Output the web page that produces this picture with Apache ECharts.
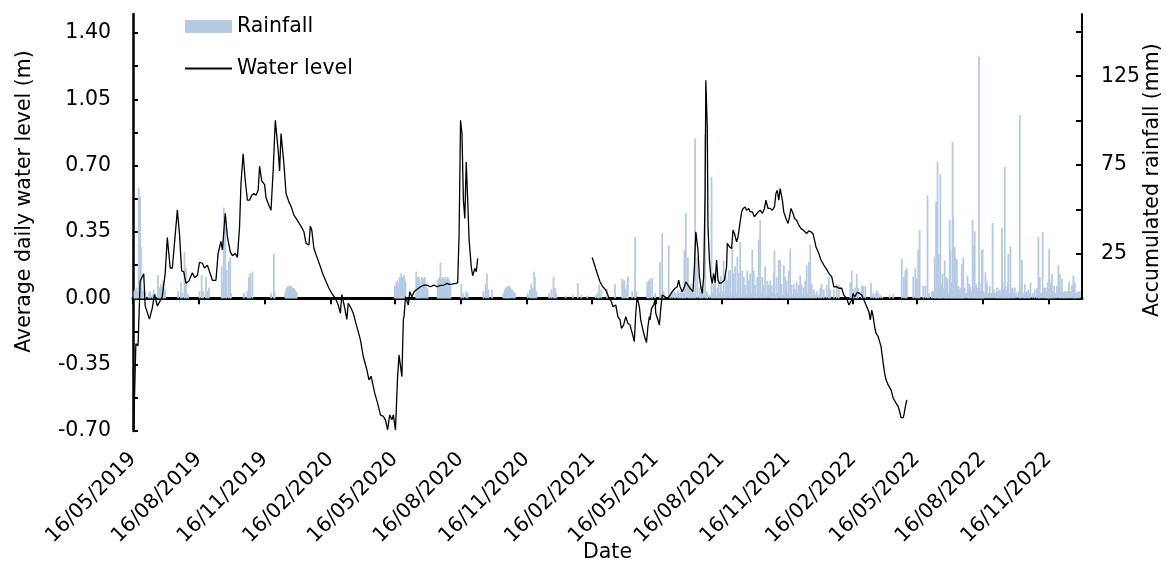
<!DOCTYPE html>
<html><head><meta charset="utf-8">
<script src="https://cdn.jsdelivr.net/npm/echarts@6/dist/echarts.min.js"></script>
<style>html,body{margin:0;padding:0;background:#fff}#c{width:1166px;height:562px}</style>
</head><body><div id="c"></div>
<script>
// ---------- DATA ----------
const tickDates = ['2019-05-16','2019-08-16','2019-11-16','2020-02-16','2020-05-16','2020-08-16','2020-11-16',
  '2021-02-16','2021-05-16','2021-08-16','2021-11-16','2022-02-16','2022-05-16','2022-08-16','2022-11-16'];
const levelLabels = [-0.70,-0.35,0.00,0.35,0.70,1.05,1.40];
const levelTicks = [-0.70,-0.525,-0.35,-0.175,0,0.175,0.35,0.525,0.70,0.875,1.05,1.225,1.40];
const rainTicks = [0,25,50,75,100,125,150];
const rainLabels = [25,75,125];

const waterLevel = [
['2019-05-17',-0.69],['2019-05-20',-0.24],['2019-05-23',-0.25],['2019-05-26',0.09],['2019-05-31',0.13],['2019-06-02',-0.04],['2019-06-08',-0.11],['2019-06-12',-0.05],['2019-06-15',0.02],['2019-06-19',-0.04],['2019-06-22',-0.02],['2019-06-26',0.01],['2019-06-28',0.02],['2019-06-30',0.13],['2019-07-03',0.32],['2019-07-07',0.16],['2019-07-10',0.16],['2019-07-13',0.29],['2019-07-17',0.465],['2019-07-20',0.34],['2019-07-23',0.145],['2019-07-26',0.14],['2019-07-29',0.08],['2019-08-02',0.09],['2019-08-07',0.135],['2019-08-10',0.11],['2019-08-14',0.12],['2019-08-17',0.19],['2019-08-21',0.185],['2019-08-24',0.16],['2019-08-28',0.175],['2019-09-01',0.13],['2019-09-04',0.095],['2019-09-09',0.095],['2019-09-12',0.237],['2019-09-16',0.30],['2019-09-18',0.255],['2019-09-22',0.448],['2019-09-25',0.325],['2019-09-29',0.245],['2019-10-02',0.225],['2019-10-06',0.237],['2019-10-09',0.216],['2019-10-12',0.377],['2019-10-14',0.606],['2019-10-17',0.763],['2019-10-20',0.62],['2019-10-23',0.518],['2019-10-26',0.518],['2019-10-29',0.544],['2019-11-01',0.553],['2019-11-04',0.544],['2019-11-07',0.57],['2019-11-09',0.697],['2019-11-12',0.62],['2019-11-16',0.60],['2019-11-18',0.53],['2019-11-22',0.491],['2019-11-25',0.465],['2019-11-28',0.676],['2019-12-01',0.939],['2019-12-05',0.781],['2019-12-07',0.672],['2019-12-09',0.869],['2019-12-13',0.711],['2019-12-16',0.553],['2019-12-20',0.509],['2019-12-23',0.486],['2019-12-27',0.439],['2019-12-31',0.416],
['2020-01-05',0.386],['2020-01-10',0.351],['2020-01-13',0.29],['2020-01-17',0.281],['2020-01-19',0.381],['2020-01-21',0.36],['2020-01-24',0.263],['2020-01-28',0.22],['2020-02-02',0.167],['2020-02-05',0.132],['2020-02-10',0.088],['2020-02-14',0.053],['2020-02-18',0.026],['2020-02-23',0.0],['2020-02-27',-0.035],['2020-03-01',-0.079],['2020-03-03',0.02],['2020-03-07',-0.05],['2020-03-10',-0.111],['2020-03-12',-0.026],['2020-03-16',-0.053],['2020-03-19',-0.079],['2020-03-24',-0.149],['2020-03-29',-0.219],['2020-04-02',-0.307],['2020-04-07',-0.377],['2020-04-10',-0.43],['2020-04-13',-0.412],['2020-04-16',-0.465],['2020-04-18',-0.50],['2020-04-22',-0.553],['2020-04-26',-0.615],['2020-04-30',-0.623],['2020-05-03',-0.641],['2020-05-06',-0.694],['2020-05-09',-0.615],['2020-05-12',-0.641],['2020-05-14',-0.615],['2020-05-17',-0.694],['2020-05-20',-0.413],['2020-05-22',-0.299],['2020-05-26',-0.413],['2020-05-28',-0.114],['2020-05-29',-0.097],['2020-05-31',0.008],['2020-06-02',0.0],['2020-06-04',-0.035],['2020-06-06',0.035],['2020-06-09',0.008],['2020-06-12',0.035],['2020-06-15',0.044],['2020-06-17',0.053],['2020-06-21',0.061],['2020-06-26',0.07],['2020-06-30',0.07],['2020-07-05',0.061],['2020-07-10',0.07],['2020-07-14',0.061],['2020-07-19',0.068],['2020-07-24',0.07],['2020-07-28',0.079],['2020-07-31',0.074],['2020-08-04',0.075],['2020-08-09',0.079],['2020-08-12',0.082],['2020-08-14',0.342],['2020-08-16',0.939],['2020-08-18',0.869],['2020-08-20',0.518],['2020-08-22',0.421],['2020-08-24',0.719],['2020-08-26',0.518],['2020-08-28',0.307],['2020-08-31',0.166],['2020-09-02',0.119],['2020-09-05',0.158],['2020-09-07',0.14],['2020-09-09',0.21],['2020-09-10',null],
['2021-02-16',0.216],['2021-02-19',0.181],['2021-02-23',0.132],['2021-02-27',0.087],['2021-03-03',0.061],['2021-03-07',0.044],['2021-03-11',0.008],['2021-03-15',-0.018],['2021-03-17',-0.044],['2021-03-21',-0.035],['2021-03-24',-0.097],['2021-03-27',-0.114],['2021-03-29',-0.158],['2021-04-01',-0.141],['2021-04-04',-0.097],['2021-04-07',-0.132],['2021-04-10',-0.141],['2021-04-13',-0.184],['2021-04-16',-0.228],['2021-04-18',-0.079],['2021-04-20',0.008],['2021-04-23',-0.044],['2021-04-25',-0.114],['2021-04-28',-0.167],['2021-05-01',-0.211],['2021-05-03',-0.234],['2021-05-05',-0.15],['2021-05-07',-0.097],['2021-05-08',-0.114],['2021-05-10',-0.053],['2021-05-13',-0.035],['2021-05-15',-0.009],['2021-05-16',-0.079],['2021-05-19',-0.114],['2021-05-21',-0.141],['2021-05-23',-0.053],['2021-05-25',0.017],['2021-05-27',0.026],['2021-05-29',0.008],['2021-06-01',-0.005],['2021-06-03',-0.009],['2021-06-05',0.017],['2021-06-08',0.035],['2021-06-10',0.026],['2021-06-12',0.053],['2021-06-15',0.061],['2021-06-17',0.096],['2021-06-19',0.061],['2021-06-22',0.035],['2021-06-25',0.061],['2021-06-27',0.087],['2021-06-30',0.07],['2021-07-03',0.053],['2021-07-07',0.035],['2021-07-09',0.166],['2021-07-11',0.351],['2021-07-14',0.254],['2021-07-16',0.114],['2021-07-18',0.061],['2021-07-20',0.026],['2021-07-22',0.114],['2021-07-24',0.553],['2021-07-25',1.15],['2021-07-27',0.904],['2021-07-28',0.377],['2021-07-30',0.202],['2021-08-01',0.114],['2021-08-03',0.079],['2021-08-05',0.132],['2021-08-07',0.082],['2021-08-09',0.202],['2021-08-11',0.096],['2021-08-13',0.079],['2021-08-16',0.082],['2021-08-18',0.087],['2021-08-20',0.096],['2021-08-23',0.166],['2021-08-24',0.29],['2021-08-27',0.272],['2021-08-30',0.263],['2021-09-01',0.36],['2021-09-03',0.342],['2021-09-06',0.298],['2021-09-08',0.324],['2021-09-10',0.377],['2021-09-13',0.456],['2021-09-15',0.474],['2021-09-18',0.482],['2021-09-20',0.465],['2021-09-23',0.474],['2021-09-25',0.456],['2021-09-28',0.456],['2021-10-01',0.43],['2021-10-03',0.439],['2021-10-06',0.456],['2021-10-09',0.465],['2021-10-12',0.448],['2021-10-15',0.474],['2021-10-17',0.518],['2021-10-20',0.474],['2021-10-23',0.474],['2021-10-26',0.465],['2021-10-29',0.482],['2021-10-31',0.553],['2021-11-02',0.57],['2021-11-04',0.518],['2021-11-06',0.579],['2021-11-09',0.518],['2021-11-11',0.456],['2021-11-14',0.421],['2021-11-17',0.395],['2021-11-19',0.43],['2021-11-21',0.474],['2021-11-24',0.448],['2021-11-26',0.421],['2021-11-29',0.412],['2021-12-02',0.386],['2021-12-05',0.369],['2021-12-08',0.36],['2021-12-10',0.351],['2021-12-13',0.342],['2021-12-16',0.356],['2021-12-19',0.351],['2021-12-22',0.339],['2021-12-24',0.307],['2021-12-26',0.272],['2021-12-30',0.237],
['2022-01-02',0.202],['2022-01-06',0.175],['2022-01-09',0.158],['2022-01-13',0.132],['2022-01-17',0.114],['2022-01-20',0.061],['2022-01-22',0.053],['2022-01-24',0.061],['2022-01-27',0.053],['2022-01-29',0.061],['2022-01-31',0.053],['2022-02-03',0.017],['2022-02-05',0.008],['2022-02-07',0.0],['2022-02-10',-0.035],['2022-02-12',-0.039],['2022-02-14',-0.009],['2022-02-16',0.026],['2022-02-18',0.008],['2022-02-19',0.017],['2022-02-22',0.032],['2022-02-25',0.026],['2022-02-28',0.017],['2022-03-02',0.0],['2022-03-04',-0.009],['2022-03-07',-0.044],['2022-03-10',-0.071],['2022-03-12',-0.114],['2022-03-14',-0.062],['2022-03-16',-0.097],['2022-03-18',-0.15],['2022-03-20',-0.184],['2022-03-23',-0.202],['2022-03-25',-0.202],['2022-03-27',-0.255],['2022-03-30',-0.342],['2022-04-01',-0.395],['2022-04-03',-0.43],['2022-04-06',-0.457],['2022-04-08',-0.465],['2022-04-10',-0.483],['2022-04-13',-0.527],['2022-04-15',-0.518],['2022-04-17',-0.553],['2022-04-20',-0.571],['2022-04-22',-0.597],['2022-04-24',-0.629],['2022-04-27',-0.629],['2022-04-28',-0.615],['2022-04-30',-0.571],['2022-05-02',-0.536]
];

const rain2019 = [
['2019-05-18',4],['2019-05-19',5],['2019-05-20',3],['2019-05-21',6],['2019-05-22',4],['2019-05-24',62],['2019-05-26',57],['2019-05-27',29],['2019-05-28',6],['2019-05-29',3],['2019-05-30',4],['2019-05-31',2],['2019-06-01',5],['2019-06-02',3],['2019-06-07',3],['2019-06-09',4],['2019-06-12',2],['2019-06-14',5],['2019-06-16',3],['2019-06-20',13],['2019-06-22',6],['2019-06-23',6],['2019-06-24',8],['2019-06-25',7],['2019-06-27',10],['2019-06-28',6],['2019-06-30',5],
['2019-07-18',4],['2019-07-22',9],['2019-07-24',3],['2019-07-27',26],['2019-07-29',17],['2019-07-30',3],['2019-08-01',2],['2019-08-17',4],['2019-08-20',13],['2019-08-22',4],['2019-08-26',12],['2019-08-28',4],['2019-08-30',6],
['2019-09-17',18],['2019-09-18',9],['2019-09-20',51],['2019-09-22',40],['2019-09-24',16],['2019-09-27',21],['2019-09-29',23],['2019-09-30',3],['2019-10-18',3],['2019-10-23',4],['2019-10-25',12],['2019-10-27',14],['2019-10-30',15],['2019-11-25',3],['2019-11-29',25],['2019-11-30',4],
['2019-12-15',3],['2019-12-16',5],['2019-12-17',6],['2019-12-18',6],['2019-12-19',7],['2019-12-20',7],['2019-12-21',6],['2019-12-22',7],['2019-12-23',7],['2019-12-24',6],['2019-12-25',6],['2019-12-26',5],['2019-12-27',6],['2019-12-28',5],['2019-12-29',4],['2019-12-30',4],['2019-12-31',3]
];

const rain2020 = [
['2020-05-16',7],['2020-05-17',5],['2020-05-18',9],['2020-05-19',8],['2020-05-20',10],['2020-05-21',6],['2020-05-22',8],['2020-05-23',12],['2020-05-24',9],['2020-05-25',14],['2020-05-26',11],['2020-05-27',12],['2020-05-28',10],['2020-05-29',13],['2020-05-30',11],['2020-05-31',9],
['2020-06-15',15],['2020-06-16',8],['2020-06-17',12],['2020-06-18',10],['2020-06-19',12],['2020-06-20',7],['2020-06-22',10],['2020-06-23',12],['2020-06-25',11],['2020-06-26',9],['2020-06-27',12],['2020-06-29',8],['2020-06-30',6],['2020-07-01',5],
['2020-07-15',10],['2020-07-16',11],['2020-07-17',9],['2020-07-18',12],['2020-07-19',20],['2020-07-20',11],['2020-07-21',10],['2020-07-22',12],['2020-07-23',11],['2020-07-24',10],['2020-07-25',11],['2020-07-26',12],['2020-07-27',11],['2020-07-28',10],['2020-07-29',12],['2020-07-30',11],['2020-07-31',10],['2020-08-01',9],['2020-08-02',8],
['2020-08-17',8],['2020-08-20',3],['2020-08-24',4],['2020-08-26',3],['2020-09-17',4],['2020-09-20',8],['2020-09-22',14],['2020-09-24',5],['2020-09-29',5],
['2020-10-15',3],['2020-10-17',5],['2020-10-18',6],['2020-10-19',6],['2020-10-21',7],['2020-10-22',6],['2020-10-23',7],['2020-10-25',6],['2020-10-27',5],['2020-10-29',4],['2020-10-31',3],
['2020-11-18',3],['2020-11-21',5],['2020-11-23',8],['2020-11-25',6],['2020-11-27',15],['2020-11-28',12],['2020-11-30',4],['2020-12-18',3],['2020-12-21',5],['2020-12-24',12],['2020-12-26',6],['2020-12-28',3]
];

const rain2021 = [
['2021-01-10',1.5],['2021-01-20',2],['2021-01-27',8.6],['2021-02-01',2],['2021-02-09',1.5],['2021-02-21',2],['2021-02-24',3],['2021-02-26',7.7],['2021-03-01',5],['2021-03-09',5.3],['2021-03-20',8.1],['2021-03-30',11],['2021-03-31',10],['2021-04-02',10],['2021-04-04',5],['2021-04-06',8],['2021-04-07',12.3],['2021-04-13',4],['2021-04-17',34.5],['2021-04-19',4],
['2021-05-04',9],['2021-05-06',10],['2021-05-08',11],['2021-05-11',11.5],['2021-05-15',3],['2021-05-22',20.4],['2021-05-25',36.8],['2021-05-27',4],['2021-06-03',29.8],['2021-06-05',3],['2021-06-08',4],['2021-06-11',4],['2021-06-13',3],['2021-06-16',5],['2021-06-18',3],['2021-06-20',4],['2021-06-22',5],['2021-06-23',3],['2021-06-25',27],['2021-06-27',48],['2021-06-30',22.9],
['2021-07-02',6],['2021-07-04',8],['2021-07-06',4],['2021-07-08',3],['2021-07-10',90],['2021-07-13',23],['2021-07-16',6],['2021-07-18',4],['2021-07-19',3],['2021-07-21',5],['2021-07-24',92],['2021-07-26',4],['2021-07-27',3],['2021-07-30',2],
['2021-08-02',68.4],['2021-08-03',3],['2021-08-05',8],['2021-08-07',10],['2021-08-08',2],['2021-08-10',6],['2021-08-12',10],['2021-08-13',3],['2021-08-15',12.5],['2021-08-17',4],['2021-08-19',21.3],['2021-08-20',2],['2021-08-22',12.5],['2021-08-24',10],['2021-08-26',15.6],['2021-08-28',16],['2021-08-29',3],['2021-08-31',28.8],
['2021-09-02',14],['2021-09-04',18.1],['2021-09-05',3],['2021-09-07',23.2],['2021-09-09',14],['2021-09-11',31.7],['2021-09-12',2],['2021-09-14',15.6],['2021-09-16',12],['2021-09-18',7.5],['2021-09-19',3],['2021-09-21',15.6],['2021-09-23',10],['2021-09-25',14],['2021-09-26',3],['2021-09-28',27.4],['2021-09-30',15.6],
['2021-10-02',7.5],['2021-10-03',2],['2021-10-05',12],['2021-10-07',33],['2021-10-09',43.9],['2021-10-10',3],['2021-10-12',12],['2021-10-14',7.5],['2021-10-16',17.8],['2021-10-17',2],['2021-10-19',10],['2021-10-21',7.5],['2021-10-23',10],['2021-10-25',7.5],['2021-10-26',3],['2021-10-28',14.5],['2021-10-29',27],['2021-10-31',2],
['2021-11-01',12],['2021-11-02',3],['2021-11-04',21.7],['2021-11-06',21.3],['2021-11-08',8],['2021-11-09',2],['2021-11-11',18.7],['2021-11-13',12],['2021-11-15',10],['2021-11-16',3],['2021-11-18',15.6],['2021-11-20',28],['2021-11-22',7.5],['2021-11-23',2],['2021-11-25',8],['2021-11-27',5],['2021-11-29',9],['2021-11-30',3],
['2021-12-02',7.5],['2021-12-04',12.8],['2021-12-06',7.5],['2021-12-07',2],['2021-12-09',6],['2021-12-11',10],['2021-12-13',18.7],['2021-12-14',3],['2021-12-16',20.5],['2021-12-18',30.3],['2021-12-20',8],['2021-12-21',2],['2021-12-23',5],['2021-12-25',2],['2021-12-27',4],['2021-12-30',2]
];

const rain2022 = [
['2022-01-01',6],['2022-01-03',8],['2022-01-06',5],['2022-01-10',7.5],['2022-01-13',12],['2022-01-15',5],['2022-01-20',5],['2022-01-24',8],['2022-01-27',7.5],
['2022-02-12',9],['2022-02-14',15.6],['2022-02-16',5],['2022-02-19',6],['2022-02-21',13.8],['2022-02-23',6],['2022-02-28',7],['2022-03-02',7],['2022-03-05',7],['2022-03-13',8.7],['2022-03-16',3],['2022-03-19',2.5],['2022-03-21',4.5],['2022-03-23',3],['2022-03-26',2],['2022-03-29',1],
['2022-04-08',2],['2022-04-13',2.5],['2022-04-25',22.3],['2022-04-28',12],['2022-04-30',15.6],['2022-05-02',17],['2022-05-11',12],['2022-05-14',17],['2022-05-16',11],['2022-05-18',27.4],['2022-05-20',38.3],['2022-05-25',7],['2022-05-28',7],['2022-05-31',58],
['2022-06-02',3],['2022-06-06',4],['2022-06-08',4],['2022-06-10',23.2],['2022-06-11',5],['2022-06-12',54.3],['2022-06-14',77],['2022-06-15',6],['2022-06-16',25],['2022-06-17',5],['2022-06-18',70],['2022-06-19',4],['2022-06-20',8],['2022-06-21',13.8],['2022-06-23',6],['2022-06-24',21.3],['2022-06-25',5],['2022-06-26',12],['2022-06-27',4],['2022-06-28',11],['2022-06-29',3],
['2022-07-01',44],['2022-07-02',27],['2022-07-03',6],['2022-07-04',9],['2022-07-05',88],['2022-07-06',45.8],['2022-07-07',12],['2022-07-08',28.8],['2022-07-09',23],['2022-07-10',8],['2022-07-11',22],['2022-07-12',5],['2022-07-13',7],['2022-07-14',4],['2022-07-15',5],['2022-07-16',6],['2022-07-17',4],['2022-07-18',19],['2022-07-19',5],['2022-07-20',23],['2022-07-21',3],['2022-07-22',6],['2022-07-24',3],['2022-07-26',12.8],['2022-07-27',4],['2022-07-28',8],['2022-07-29',3],['2022-07-30',6.5],
['2022-08-01',4],['2022-08-02',44],['2022-08-03',29.8],['2022-08-04',6],['2022-08-05',37.7],['2022-08-06',5],['2022-08-07',8],['2022-08-08',4],['2022-08-09',6],['2022-08-10',5],['2022-08-11',136],['2022-08-12',9],['2022-08-13',4],['2022-08-14',3],['2022-08-15',27],['2022-08-16',27.7],['2022-08-17',4],['2022-08-18',3],['2022-08-20',14.7],['2022-08-22',9],['2022-08-24',3],['2022-08-26',7],['2022-08-28',3],['2022-08-30',42.4],
['2022-09-01',5],['2022-09-03',3],['2022-09-05',6],['2022-09-06',3],['2022-09-07',4],['2022-09-09',5],['2022-09-11',4],['2022-09-12',39.8],['2022-09-13',9],['2022-09-14',5],['2022-09-16',74],['2022-09-17',7],['2022-09-18',4],['2022-09-20',9],['2022-09-21',25],['2022-09-22',3],['2022-09-24',29.2],['2022-09-25',5],['2022-09-27',6],['2022-09-28',3],['2022-09-30',6],
['2022-10-02',3],['2022-10-05',4],['2022-10-07',103],['2022-10-08',6],['2022-10-10',21.7],['2022-10-12',3],['2022-10-14',8],['2022-10-15',3],['2022-10-17',4],['2022-10-19',5],['2022-10-20',3],['2022-10-22',8.9],['2022-10-25',3],['2022-10-28',5],['2022-10-31',6],
['2022-11-02',34.5],['2022-11-03',4],['2022-11-04',12],['2022-11-06',3],['2022-11-08',37.3],['2022-11-10',6],['2022-11-12',6],['2022-11-13',4],['2022-11-15',9],['2022-11-16',5],['2022-11-17',27.7],['2022-11-19',9],['2022-11-20',5],['2022-11-21',13.8],['2022-11-22',4],['2022-11-24',7],['2022-11-26',3],['2022-11-28',7],['2022-11-30',18.5],
['2022-12-02',13.8],['2022-12-03',4],['2022-12-05',11],['2022-12-07',3],['2022-12-08',4],['2022-12-10',3],['2022-12-11',4],['2022-12-13',4],['2022-12-15',9.2],['2022-12-17',4],['2022-12-19',7.5],['2022-12-21',12.8],['2022-12-22',5],['2022-12-23',9],['2022-12-24',3],['2022-12-26',3.5],['2022-12-28',3.5],['2022-12-30',4]
];

// ---------- CHART ----------
const FONT = 'DejaVu Sans';
const FS = 20.5;
const ts = s => { const p = s.split('-').map(Number); return Date.UTC(p[0], p[1]-1, p[2]); };
const pad = n => (n < 10 ? '0' : '') + n;
const fmtDate = v => { const d = new Date(v); return pad(d.getUTCDate()) + '/' + pad(d.getUTCMonth()+1) + '/' + d.getUTCFullYear(); };
const xMin = ts('2019-05-16'), xMax = ts('2023-01-02');
const tickValues = tickDates.map(ts);
const toXY = arr => arr.map(p => [ts(p[0]), p[1]]);
const rainfall = toXY([].concat(rain2019, rain2020, rain2021, rain2022));
const levelData = toXY(waterLevel);

const chart = echarts.init(document.getElementById('c'), null, {renderer: 'canvas'});
chart.setOption({
  animation: false,
  backgroundColor: '#fff',
  textStyle: {fontFamily: FONT},
  grid: [
    {left: 133, right: 84, top: 14, bottom: 131, containLabel: false, outerBoundsMode: 'none'},
    {left: 133, right: 84, top: 14, bottom: 263.7, containLabel: false, outerBoundsMode: 'none'}
  ],
  legend: {
    orient: 'vertical', left: 184, top: 16, padding: 0, itemWidth: 47, itemHeight: 13, itemGap: 21,
    selectedMode: false,
    textStyle: {fontFamily: FONT, fontSize: FS, color: '#000'},
    data: [{name: 'Rainfall', icon: 'rect'}, {name: 'Water level', itemStyle: {opacity: 0}}]
  },
  xAxis: [
    {type: 'value', gridIndex: 0, min: xMin, max: xMax, position: 'bottom',
     axisLine: {show: true, onZero: true, lineStyle: {color: '#000', width: 3}},
     axisTick: {show: true, inside: false, length: 6, lineStyle: {color: '#000', width: 2}, customValues: tickValues},
     axisLabel: {show: false}, splitLine: {show: false}},
    {type: 'value', gridIndex: 0, min: xMin, max: xMax, position: 'bottom',
     axisLine: {show: false, onZero: false}, axisTick: {show: false}, splitLine: {show: false},
     axisLabel: {show: true, rotate: 45, margin: 25, customValues: tickValues, formatter: fmtDate,
                 fontFamily: FONT, fontSize: FS, color: '#000', hideOverlap: false},
     name: 'Date', nameLocation: 'middle', nameGap: 111, nameMoveOverlap: false,
     nameTextStyle: {fontFamily: FONT, fontSize: FS, color: '#000'}},
    {type: 'value', gridIndex: 1, min: xMin, max: xMax, show: false}
  ],
  yAxis: [
    {type: 'value', gridIndex: 0, min: -0.7, max: 1.5, position: 'left',
     axisLine: {show: true, onZero: false, lineStyle: {color: '#000', width: 2.5}},
     axisTick: {show: true, inside: true, length: 5, lineStyle: {color: '#000', width: 2}, customValues: levelTicks},
     axisLabel: {show: true, margin: 22, customValues: levelLabels, formatter: v => v.toFixed(2),
                 fontFamily: FONT, fontSize: FS, color: '#000'},
     splitLine: {show: false},
     name: 'Average daily water level (m)', nameLocation: 'middle', nameRotate: 90, nameGap: 98, nameMoveOverlap: false,
     nameTextStyle: {fontFamily: FONT, fontSize: FS, color: '#000', padding: [0, 0, 0, 42]}},
    {type: 'value', gridIndex: 1, min: 0, max: 160, position: 'right',
     axisLine: {show: true, onZero: false, lineStyle: {color: '#000', width: 2}},
     axisTick: {show: true, inside: true, length: 6, lineStyle: {color: '#000', width: 2}, customValues: rainTicks},
     axisLabel: {show: true, margin: 19, customValues: rainLabels, fontFamily: FONT, fontSize: FS, color: '#000'},
     splitLine: {show: false},
     name: 'Accumulated rainfall (mm)', nameLocation: 'middle', nameRotate: 90, nameGap: 60, nameMoveOverlap: false,
     nameTextStyle: {fontFamily: FONT, fontSize: FS, color: '#000', padding: [0, 48, 0, 0]}}
  ],
  series: [
    {name: 'Rainfall', type: 'bar', xAxisIndex: 2, yAxisIndex: 1, data: rainfall, barWidth: 1.8,
     itemStyle: {color: '#b6cae3'}, silent: true, z: 2},
    {name: 'Water level', type: 'line', xAxisIndex: 0, yAxisIndex: 0, data: levelData, symbol: 'none',
     connectNulls: false, lineStyle: {color: '#000', width: 1.3}, itemStyle: {color: '#000'}, silent: true, z: 3}
  ]
});
</script></body></html>
